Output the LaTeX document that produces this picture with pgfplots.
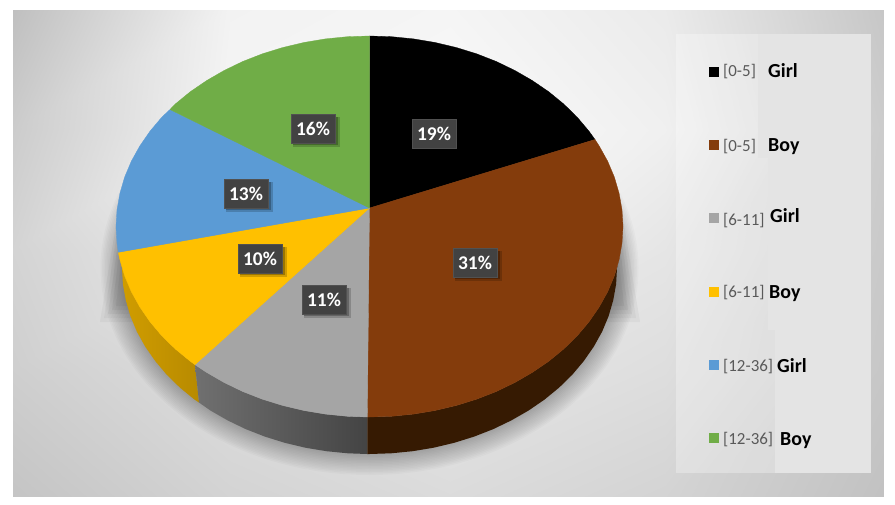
\documentclass[border=0pt]{standalone}
\usepackage{pgfplots}
\pgfplotsset{compat=1.18}
\usepackage{fontspec}
\setmainfont{Carlito}
\definecolor{cBrown}{HTML}{843C0C}
\definecolor{cGray}{HTML}{A5A5A5}
\definecolor{cYellow}{HTML}{FFC000}
\definecolor{cBlue}{HTML}{5B9BD5}
\definecolor{cGreen}{HTML}{70AD47}
\definecolor{cBox}{HTML}{424242}
\newcommand{\lab}[3]{%
  \fill[black,opacity=.18] (axis cs:#1-20,#2-12) rectangle (axis cs:#1+27,#2+18);
  \fill[black,opacity=.25] (axis cs:#1-20,#2-12) rectangle (axis cs:#1+25,#2+16);
  \node[fill=cBox,draw=cBox!92!white,line width=.4bp,text=white,inner sep=0pt,minimum width=44.5bp,minimum height=29bp,font=\fontsize{19.5}{19.5}\selectfont\bfseries] at (axis cs:#1,#2) {#3};}
% colour, marker y, range, range baseline, word x, word baseline, word
\newcommand{\leg}[7]{%
  \addplot[only marks,mark=square*,mark size=4.6bp,mark options={fill=#1,draw=#1}] coordinates {(713.5,#2)};
  \node[anchor=base west,inner sep=0pt,text={rgb,255:red,89;green,89;blue,89},font=\fontsize{17}{17}\selectfont] at (axis cs:723,#4) {#3};
  \node[anchor=base west,inner sep=0pt,text=black,font=\fontsize{20}{20}\selectfont\bfseries] at (axis cs:#5,#6) {#7};}
\begin{document}
\begin{tikzpicture}
\begin{axis}[hide axis,scale only axis,width=895bp,height=505bp,xmin=0,xmax=895,ymin=0,ymax=505,y dir=reverse,clip=true,
  colormap={bg}{gray(0cm)=(0); gray(1cm)=(1)},point meta min=0,point meta max=1]
\path (axis cs:0,0) rectangle (axis cs:895,505);
% background panel
\addplot[surf,shader=interp,mesh/cols=5,point meta=explicit] table[meta=c] {
x y c
13 10 .75
230 10 .95
450 10 .96
665 10 .92
883 10 .78
13 130 .80
230 130 .96
450 130 .98
665 130 .94
883 130 .80
13 250 .83
230 250 .92
450 250 .96
665 250 .90
883 250 .79
13 370 .81
230 370 .87
450 370 .90
665 370 .87
883 370 .78
13 496 .77
230 496 .83
450 496 .86
665 496 .83
883 496 .76
};
% soft shadow beneath the pie
\pgfplotsinvokeforeach{0,4,8,12,16}{
  \fill[black,opacity=.035] (axis cs:100+#1,322-#1) -- (axis cs:120+#1/2,200) -- (axis cs:620-#1/2,200) -- (axis cs:640-#1,322-#1) -- (axis cs:369,322-#1) -- cycle;
}
\pgfplotsinvokeforeach{0,1.5,3,4.5,6,7.5,9,10.5,12,13.5,15,16.5,18,19.5,21}{
  \fill[black,opacity=.02] (axis cs:369.5,268) ellipse [x radius=248+#1,y radius=186+#1];
}
% sides
\addplot[draw=none,left color=cYellow!82!black,right color=cYellow!72!black] coordinates {
(118.3,252.3)(119.9,259.6)(124.6,275.8)(131.3,291.7)(139.8,307)(150,321.8)(161.8,335.8)(175.3,349)(190.2,361.2)(195,364.7)
(199,402.5)(194.4,399.5)(179.9,387.6)(166.7,374.7)(155.2,361)(145.2,346.6)(136.9,331.7)(130.4,316.1)(125.8,300.3)(122.9,284.2)(122,268)} -- cycle;
\addplot[draw=none,left color={rgb,255:red,112;green,112;blue,112},right color={rgb,255:red,68;green,68;blue,68}] coordinates {
(195,364.7)(206.6,372.4)(224.1,382.5)(242.7,391.5)(262.4,399.2)(282.8,405.5)(303.9,410.5)(325.5,414.1)(347.4,416.3)(367.3,417)
(367.3,454)(347.9,453.3)(326.5,451.2)(305.4,447.7)(284.8,442.8)(264.9,436.6)(245.7,429.1)(227.5,420.3)(210.4,410.5)(199,402.5)} -- cycle;
\addplot[draw=none,fill={rgb,255:red,54;green,26;blue,2}] coordinates {
(617.5,266)(614.4,275.8)(607.7,291.7)(599.2,307)(589,321.8)(577.2,335.8)(563.7,349)(548.8,361.2)(532.4,372.4)(514.9,382.5)(496.3,391.5)(476.6,399.2)(456.2,405.5)(435.1,410.5)(413.5,414.1)(391.6,416.3)(369.5,417)(367.3,417)
(367.3,454)(369.5,454)(391.1,453.3)(412.5,451.2)(433.6,447.7)(454.2,442.8)(474.1,436.6)(493.3,429.1)(511.5,420.3)(528.6,410.5)(544.6,399.5)(559.1,387.6)(572.3,374.7)(583.8,361)(593.8,346.6)(602.1,331.7)(608.6,316.1)(613.2,300.3)(616.1,284.2)(617,268)} -- cycle;
% top slices
\addplot[fill=black,draw=black,line width=.3bp] coordinates {
(369.5,208)(369.5,36)(391.6,36.7)(413.5,38.9)(435.1,42.5)(456.2,47.5)(476.6,53.8)(496.3,61.5)(514.9,70.5)(532.4,80.6)(548.8,91.8)(563.7,104)(577.2,117.2)(589,131.2)(595,139.5)} -- cycle;
\addplot[fill=cBrown,draw=cBrown,line width=.3bp] coordinates {
(369.5,208)(595,139.5)(599.2,146)(607.7,161.3)(614.4,177.2)(619.1,193.4)(622,209.9)(623,226.5)(622,243.1)(619.1,259.6)(614.4,275.8)(607.7,291.7)(599.2,307)(589,321.8)(577.2,335.8)(563.7,349)(548.8,361.2)(532.4,372.4)(514.9,382.5)(496.3,391.5)(476.6,399.2)(456.2,405.5)(435.1,410.5)(413.5,414.1)(391.6,416.3)(369.5,417)(367.3,417)} -- cycle;
\addplot[fill=cGray,draw=cGray,line width=.3bp] coordinates {
(369.5,208)(367.3,417)(347.4,416.3)(325.5,414.1)(303.9,410.5)(282.8,405.5)(262.4,399.2)(242.7,391.5)(224.1,382.5)(206.6,372.4)(195,364.7)} -- cycle;
\addplot[fill=cYellow,draw=cYellow,line width=.3bp] coordinates {
(369.5,208)(195,364.7)(190.2,361.2)(175.3,349)(161.8,335.8)(150,321.8)(139.8,307)(131.3,291.7)(124.6,275.8)(119.9,259.6)(118.3,252.3)} -- cycle;
\addplot[fill=cBlue,draw=cBlue,line width=.3bp] coordinates {
(369.5,208)(118.3,252.3)(117,243.1)(116,226.5)(117,209.9)(119.9,193.4)(124.6,177.2)(131.3,161.3)(139.8,146)(150,131.2)(161.8,117.2)(170,109.5)} -- cycle;
\addplot[fill=cGreen,draw=cGreen,line width=.3bp] coordinates {
(369.5,208)(170,109.5)(175.3,104)(190.2,91.8)(206.6,80.6)(224.1,70.5)(242.7,61.5)(262.4,53.8)(282.8,47.5)(303.9,42.5)(325.5,38.9)(347.4,36.7)(369.5,36)} -- cycle;
% data labels
\lab{434}{134}{19\%}
\lab{475}{263}{31\%}
\lab{324}{300}{11\%}
\lab{260}{259}{10\%}
\lab{246}{194}{13\%}
\lab{313}{129}{16\%}
% legend panel
\fill[white,opacity=.3] (axis cs:676,34) rectangle (axis cs:775,473);
\fill[black!10.5] (axis cs:758,34) rectangle (axis cs:871,158);
\fill[black!10.5] (axis cs:768,158) rectangle (axis cs:871,330);
\fill[black!10.5] (axis cs:775,330) rectangle (axis cs:871,473);
\leg{black}{71.7}{[0-5]}{77}{768}{77.7}{Girl}
\leg{cBrown}{145}{[0-5]}{151}{768}{151}{Boy}
\leg{cGray}{218}{[6-11]}{225}{770}{222.7}{Girl}
\leg{cYellow}{291.7}{[6-11]}{297.3}{769}{298}{Boy}
\leg{cBlue}{365}{[12-36]}{371.7}{777}{372.7}{Girl}
\leg{cGreen}{438}{[12-36]}{444.3}{780}{445}{Boy}
\end{axis}
\end{tikzpicture}
\end{document}
